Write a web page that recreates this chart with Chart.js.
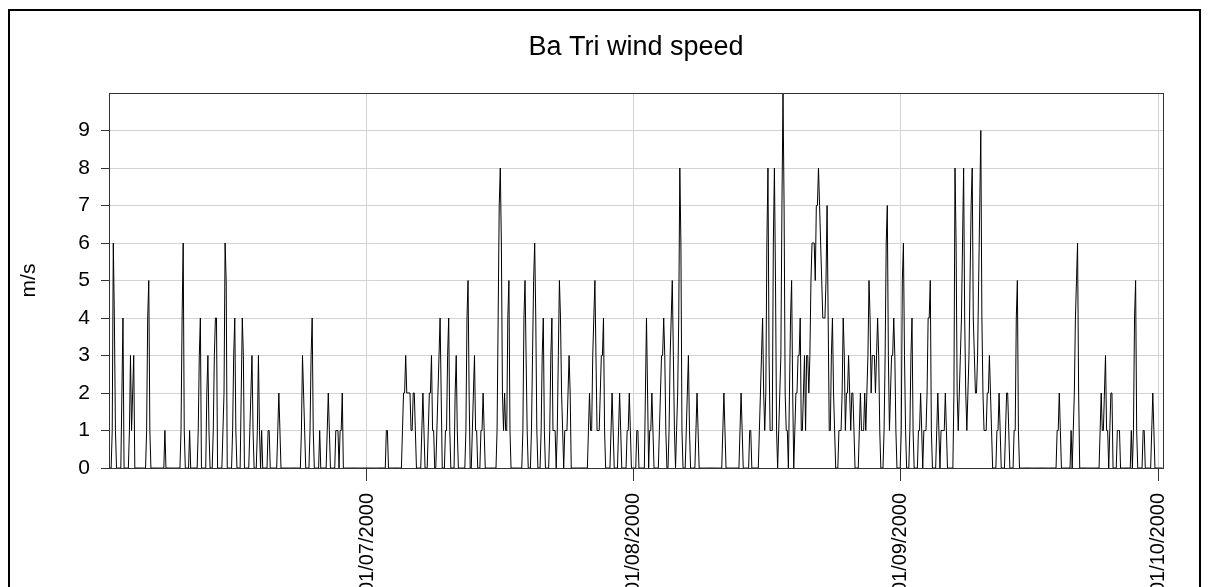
<!DOCTYPE html>
<html>
<head>
<meta charset="utf-8">
<script src="https://cdn.jsdelivr.net/npm/chart.js@4.4.1/dist/chart.umd.min.js"></script>
<style>
  html, body { margin: 0; padding: 0; background: #fff; }
  canvas { display: block; }
</style>
</head>
<body>
<canvas id="wind" width="1210" height="587"></canvas>
<script>
// 3-hourly wind speed (m/s), one row per day: 00h 03h 06h 09h 12h 15h 18h 21h
const juneSpeed = [
  [0,0,0,1,6,4,1,0], [0,0,0,0,2,4,0,0], [0,0,0,1,3,1,2,3], [0,0,0,0,0,0,0,0], [0,0,0,1,4,5,1,0],
  [0,0,0,0,0,0,0,0], [0,0,0,0,1,0,0,0], [0,0,0,0,0,0,0,0], [0,0,0,1,4,6,1,0], [0,0,0,1,0,0,0,0],
  [0,0,0,1,3,4,0,0], [0,0,0,2,3,1,0,0], [0,1,3,4,4,0,0,0], [0,0,1,2,6,5,0,0], [0,0,0,1,3,4,1,0],
  [0,0,0,2,4,3,0,0], [0,0,0,1,2,3,1,0], [0,0,1,3,1,0,1,0], [0,0,0,0,1,1,0,0], [0,0,0,0,0,1,2,1],
  [0,0,0,0,0,0,0,0], [0,0,0,0,0,0,0,0], [0,0,0,1,3,2,1,0], [0,0,0,1,3,4,1,0], [0,0,0,0,1,0,0,0],
  [0,0,0,1,2,1,0,0], [0,0,0,1,1,1,0,1], [1,2,0,0,0,0,0,0], [0,0,0,0,0,0,0,0], [0,0,0,0,0,0,0,0]
]
const julySpeed = [
  [0,0,0,0,0,0,0,0], [0,0,0,0,0,0,0,0], [0,0,1,1,0,0,0,0], [0,0,0,0,0,0,0,0], [0,1,2,2,3,2,2,2],
  [2,1,1,2,2,1,0,0], [0,0,0,1,2,1,0,0], [0,1,2,2,3,1,1,0], [0,1,2,3,4,2,0,0], [0,1,1,3,4,1,0,0],
  [0,0,2,3,1,0,0,0], [0,0,0,0,1,4,5,2], [0,0,1,2,3,1,1,0], [0,0,1,1,2,1,0,0], [0,0,0,0,0,0,0,0],
  [0,1,4,7,8,6,2,1], [2,1,1,4,5,1,0,0], [0,0,0,0,0,0,0,0], [0,1,4,5,3,1,0,0], [0,1,3,5,6,4,1,0],
  [0,0,1,3,4,1,0,0], [0,0,1,3,4,1,1,1], [0,1,3,5,4,2,1,0], [1,1,1,2,3,2,0,0], [0,0,0,0,0,0,0,0],
  [0,0,0,0,0,0,1,2], [1,1,3,4,5,3,1,1], [1,2,3,3,4,1,0,0], [0,0,0,1,2,1,0,0], [0,0,1,2,1,0,0,0],
  [0,0,1,1,2,1,0,0]
]
const augSpeed = [
  [0,0,0,1,1,0,0,0], [0,0,0,2,4,2,0,1], [1,2,1,0,0,0,0,0], [1,2,3,3,4,3,1,0], [0,1,3,4,5,3,1,0],
  [1,2,4,8,6,1,0,0], [0,1,2,3,1,0,0,0], [0,0,1,2,1,0,0,0], [0,0,0,0,0,0,0,0], [0,0,0,0,0,0,0,0],
  [0,0,0,1,2,1,0,0], [0,0,0,0,0,0,0,0], [0,0,0,1,2,1,0,0], [0,0,0,0,1,1,0,0], [0,0,0,0,0,1,2,3],
  [4,2,1,2,6,8,3,1], [1,1,6,8,5,1,0,1], [2,3,7,10,7,2,1,1], [0,2,4,5,2,0,1,2], [2,3,3,4,1,1,2,3],
  [1,3,3,2,3,5,6,6], [6,5,7,7,8,7,6,5], [4,4,4,5,7,4,1,1], [3,4,2,1,0,0,0,1], [1,1,2,4,3,1,2,2],
  [3,2,1,2,2,1,0,0], [0,0,1,2,1,1,1,2], [1,2,3,5,4,2,3,3], [3,2,3,4,3,1,0,0], [0,1,3,6,7,3,1,2],
  [3,3,4,3,1,0,0,0]
]
const sepSpeed = [
  [0,1,5,6,3,1,0,0], [0,1,3,4,1,0,0,0], [0,1,1,2,1,0,1,1], [1,2,4,4,5,1,0,0], [0,0,1,2,1,0,1,1],
  [1,1,2,1,0,0,0,0], [0,0,2,8,6,2,1,2], [3,4,6,8,4,2,1,2], [3,5,7,8,4,3,2,2], [3,5,7,9,4,2,1,1],
  [1,2,2,3,2,1,0,0], [0,0,1,1,2,1,0,0], [0,0,1,2,2,1,0,0], [0,0,1,1,4,5,1,0], [0,0,0,0,0,0,0,0],
  [0,0,0,0,0,0,0,0], [0,0,0,0,0,0,0,0], [0,0,0,0,0,0,0,0], [0,0,1,1,2,1,0,0], [0,0,0,0,0,0,0,1],
  [0,1,2,4,5,6,2,0], [0,0,0,0,0,0,0,0], [0,0,0,0,0,0,0,0], [0,0,1,2,1,1,2,3], [1,1,0,1,2,2,0,0],
  [0,0,1,1,1,0,0,0], [0,0,0,0,0,0,0,1], [0,1,4,5,1,0,0,0], [0,0,1,1,0,0,0,0], [0,0,1,2,1,0,0,0]
]
const octSpeed = [
  [0,0,0,0,0]
]

// days counted from 01/06/2000
const monthStart = [0, 30, 61, 92, 122]
const tickDays = [30, 61, 92, 122]
const tickLabels = ['01/07/2000', '01/08/2000', '01/09/2000', '01/10/2000']
const yTicks = [0, 1, 2, 3, 4, 5, 6, 7, 8, 9]
const lastDay = 122.56

let points = []
const months = [juneSpeed, julySpeed, augSpeed, sepSpeed, octSpeed]
months.forEach((month, mi) => {
  month.forEach((day, di) => {
    day.forEach((v, h) => {
      points.push({x: monthStart[mi] + di + h / 8, y: v})
    })
  })
})

const frame = {
  id: 'frame',
  afterDraw(chart) {
    const {ctx, chartArea: a} = chart
    ctx.save()
    ctx.strokeStyle = '#333'
    ctx.lineWidth = 1
    ctx.strokeRect(a.left + 0.5, a.top + 0.5, a.right - a.left, a.bottom - a.top)
    ctx.strokeStyle = '#000'
    ctx.lineWidth = 2
    ctx.strokeRect(9, 10, 1191, 620)
    ctx.fillStyle = '#000'
    ctx.font = '27px "Liberation Sans", Arial, sans-serif'
    ctx.textAlign = 'center'
    ctx.textBaseline = 'alphabetic'
    ctx.fillText('Ba Tri wind speed', (a.left + a.right) / 2, 55)
    ctx.restore()
  }
}

Chart.defaults.font.family = '"Liberation Sans", Arial, sans-serif'
Chart.defaults.color = '#000'

new Chart(document.getElementById('wind'), {
  type: 'line',
  data: {
    datasets: [{
      label: 'Ba Tri',
      data: points,
      borderColor: '#000',
      borderWidth: 1,
      pointRadius: 0,
      tension: 0,
      fill: false
    }]
  },
  options: {
    responsive: false,
    animation: false,
    layout: { padding: {top: 93, left: 12, right: 47, bottom: 0} },
    plugins: {
      legend: { display: false },
      tooltip: { enabled: false }
    },
    scales: {
      x: {
        type: 'linear',
        min: 0,
        max: lastDay,
        afterBuildTicks: (axis) => { axis.ticks = tickDays.map(v => ({value: v})) },
        afterFit: (axis) => { axis.height = 119 },
        ticks: {
          autoSkip: false,
          minRotation: 90,
          maxRotation: 90,
          padding: 12,
          font: {size: 20},
          callback: (v, i) => tickLabels[i]
        },
        grid: { color: '#d3d3d3', tickColor: '#333', tickLength: 13 },
        border: { display: false }
      },
      y: {
        min: 0,
        max: 10,
        afterBuildTicks: (axis) => { axis.ticks = yTicks.map(v => ({value: v})) },
        afterFit: (axis) => { axis.width = 97 },
        ticks: { padding: 11, font: {size: 21} },
        grid: { color: '#d3d3d3', tickColor: '#333', tickLength: 8 },
        border: { display: false },
        title: { display: true, text: 'm/s', font: {size: 21}, padding: {top: 5, bottom: 0} }
      }
    }
  },
  plugins: [frame]
})
</script>
</body>
</html>
